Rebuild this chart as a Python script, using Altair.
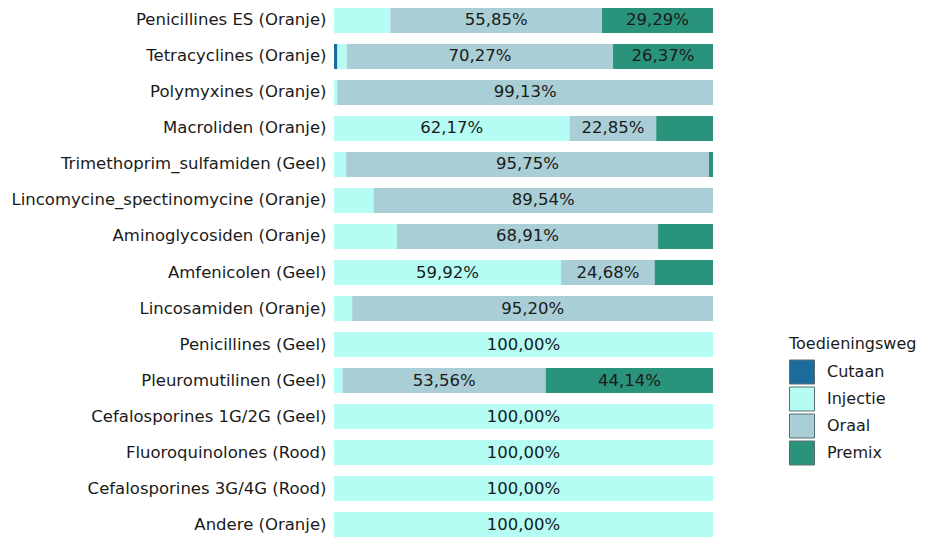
import altair as alt
import pandas as pd

categories = [
    "Penicillines ES (Oranje)",
    "Tetracyclines (Oranje)",
    "Polymyxines (Oranje)",
    "Macroliden (Oranje)",
    "Trimethoprim_sulfamiden (Geel)",
    "Lincomycine_spectinomycine (Oranje)",
    "Aminoglycosiden (Oranje)",
    "Amfenicolen (Geel)",
    "Lincosamiden (Oranje)",
    "Penicillines (Geel)",
    "Pleuromutilinen (Geel)",
    "Cefalosporines 1G/2G (Geel)",
    "Fluoroquinolones (Rood)",
    "Cefalosporines 3G/4G (Rood)",
    "Andere (Oranje)",
]
routes = ["Cutaan", "Injectie", "Oraal", "Premix"]
colors = ["#1b6c9c", "#b4fcf4", "#a9ced5", "#2a937c"]

cutaan = [0, 0.90, 0, 0, 0, 0, 0, 0, 0, 0, 0, 0, 0, 0, 0]
injectie = [14.86, 2.46, 0.87, 62.17, 3.20, 10.46, 16.60, 59.92, 4.80, 100.00, 2.30, 100.00, 100.00, 100.00, 100.00]
oraal = [55.85, 70.27, 99.13, 22.85, 95.75, 89.54, 68.91, 24.68, 95.20, 0, 53.56, 0, 0, 0, 0]
premix = [29.29, 26.37, 0, 14.98, 1.05, 0, 14.49, 15.40, 0, 0, 44.14, 0, 0, 0, 0]

rows = []
for i, cat in enumerate(categories):
    for k, (route, series) in enumerate(zip(routes, [cutaan, injectie, oraal, premix])):
        v = series[i]
        if v > 0:
            rows.append({"cat": cat, "route": route, "order": k, "value": v})
df = pd.DataFrame(rows)

FONT = "DejaVu Sans"

base = alt.Chart(df).transform_stack(
    stack="value",
    groupby=["cat"],
    as_=["x0", "x1"],
    sort=[alt.SortField("order", order="ascending")],
).transform_calculate(
    mid="(datum.x0 + datum.x1) / 2",
    label="replace(format(datum.value, '.2f'), '.', ',') + '%'",
)

yenc = alt.Y(
    "cat:N",
    sort=categories,
    title=None,
    scale=alt.Scale(paddingInner=0.3056, paddingOuter=0),
    axis=alt.Axis(
        ticks=False,
        domain=False,
        labelPadding=8,
        labelFontSize=16.5,
        labelColor="#1a1a1a",
        labelFont=FONT,
        labelLimit=400,
    ),
)

bars = base.mark_bar().encode(
    y=yenc,
    x=alt.X("x0:Q", scale=alt.Scale(domain=[0, 100]), axis=None),
    x2="x1:Q",
    color=alt.Color(
        "route:N",
        scale=alt.Scale(domain=routes, range=colors),
        legend=alt.Legend(
            title="Toedieningsweg",
            orient="none",
            legendX=455,
            legendY=328,
            symbolType="M-1,-0.96H1V0.96H-1Z",
            symbolSize=625,
            symbolStrokeColor="#5a6e72",
            symbolStrokeWidth=1,
            symbolOpacity=1,
            rowPadding=-5,
            labelOffset=12,
            labelFontSize=16,
            labelFont=FONT,
            labelColor="#1a1a1a",
            titleFontSize=16,
            titleFontWeight="normal",
            titleFont=FONT,
            titleColor="#1a1a1a",
            titlePadding=7,
            padding=0,
        ),
    ),
)

text = base.transform_filter("datum.value >= 20").mark_text(
    fontSize=16.5, font=FONT, color="#1a1a1a"
).encode(
    y=yenc,
    x=alt.X("mid:Q", scale=alt.Scale(domain=[0, 100]), axis=None),
    text="label:N",
)

chart = alt.layer(bars, text).properties(
    width=379,
    height=529,
    padding={"left": 326, "top": 0, "right": 207, "bottom": 0},
    autosize="none",
).configure_view(stroke=None)

chart.save("out.html", embed_options={"renderer": "svg", "actions": False})
